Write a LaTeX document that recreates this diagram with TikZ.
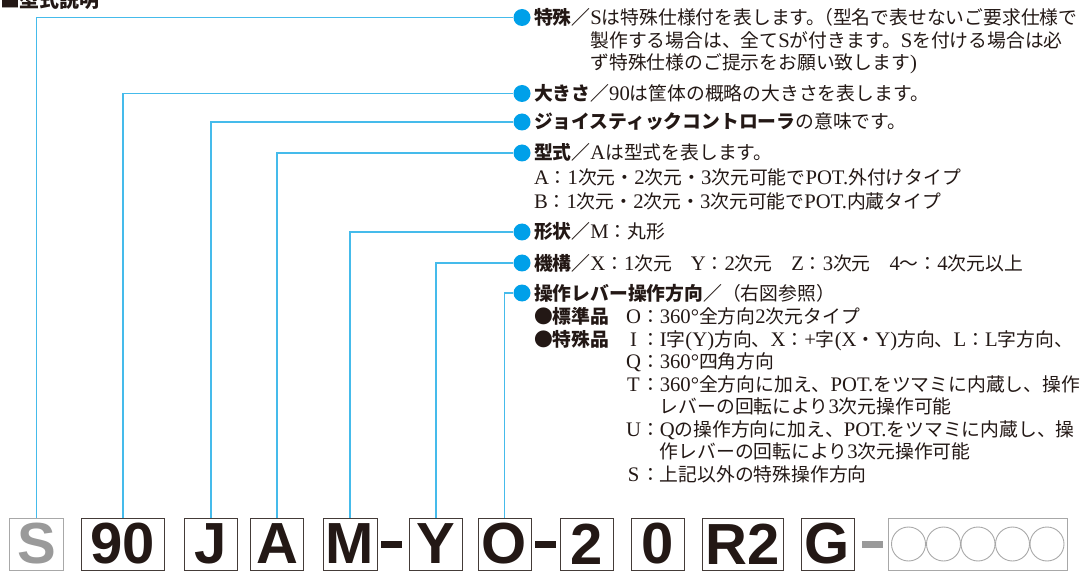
\documentclass[tikz,border=0pt]{standalone}
\usepackage{fontspec}
\setmainfont{Noto Sans CJK JP}
\newfontfamily\latinfont{Liberation Serif}[Scale=1.1]
\newfontfamily\codefont{Liberation Sans}
\newcommand\ltn[1]{{\latinfont #1}}
\newcommand\lab[1]{\makebox[15pt][c]{\latinfont #1}}
\definecolor{ink}{HTML}{231815}
\definecolor{lineblue}{HTML}{45BBEB}
\definecolor{dotblue}{HTML}{00A0E9}
\definecolor{boxgray}{HTML}{A8A8A8}
\definecolor{codegray}{HTML}{9A9A9A}
\begin{document}
\begin{tikzpicture}[x=1pt,y=-1pt,
  txt/.style={anchor=base west, inner sep=0pt, outer sep=0pt, text=ink, font=\fontsize{18.8}{22}\selectfont},
  dot/.style={circle, fill=dotblue, minimum size=17pt, inner sep=0pt},
  conn/.style={draw=lineblue, line width=1.4pt},
  codebox/.style={draw=ink!85, line width=1pt, minimum height=52pt, inner sep=0pt, text=ink,
    font=\codefont\bfseries\fontsize{58}{58}\selectfont},
  graybox/.style={codebox, draw=boxgray, text=codegray},
  dashbar/.style={fill=ink, inner sep=0pt, minimum width=21pt, minimum height=7pt},
  ring/.style={circle, draw=boxgray, line width=0.9pt, minimum size=34pt, inner sep=0pt}
]
\useasboundingbox (0,0) rectangle (1082,572);

% title (clipped at the top)
\node[txt, font=\bfseries\fontsize{20}{22}\selectfont] (title) at (0,7.5) {■型式説明};

% code boxes
\node[graybox, minimum width=54pt] (kS) at (36.5,544) {S};
\node[codebox, minimum width=83pt] (k90) at (123,544) {90};
\node[codebox, minimum width=53pt] (kJ) at (211,544) {J};
\node[codebox, minimum width=53pt] (kA) at (277,544) {A};
\node[codebox, minimum width=54pt] (kM) at (350,544) {M};
\node[dashbar] (d1) at (391.5,544) {};
\node[codebox, minimum width=53pt] (kY) at (436,544) {Y};
\node[codebox, minimum width=53pt] (kO) at (504.5,544) {O};
\node[dashbar] (d2) at (545.5,544) {};
\node[codebox, minimum width=53pt] (k2) at (587,544) {2};
\node[codebox, minimum width=53pt] (k0) at (657.5,544) {0};
\node[codebox, minimum width=81pt] (kR) at (742.5,544) {R2};
\node[codebox, minimum width=53pt] (kG) at (827.5,544) {G};
\node[dashbar, fill=codegray] (d3) at (872,544) {};
\node[graybox, minimum width=179pt] (kX) at (977.5,544) {};
\foreach \i/\cx in {1/908.5,2/943.5,3/978,4/1012.5,5/1047}
  \node[ring] (c\i) at (\cx,544) {};

% bullets
\node[dot] (b1) at (522,17.5) {};
\node[dot] (b2) at (522,93.5) {};
\node[dot] (b3) at (522,122) {};
\node[dot] (b4) at (522,153) {};
\node[dot] (b5) at (522,232) {};
\node[dot] (b6) at (522,263) {};
\node[dot] (b7) at (522,293) {};

% connectors
\draw[conn] (b1) -| (kS.north);
\draw[conn] (b2) -| (k90.north);
\draw[conn] (b3) -| (kJ.north);
\draw[conn] (b4) -| (kA.north);
\draw[conn] (b5) -| (kM.north);
\draw[conn] (b6) -| (kY.north);
\draw[conn] (b7) -| (kO.north);

% texts
\node[txt] (t1a) at (534,25) {{\bfseries 特殊／}\ltn{S}は特殊仕様付を表します。\hspace{-0.6em}（型名で表せないご要求仕様で};
\node[txt] (t1b) at (590.4,47.5) {製作する場合は、全て\ltn{S}が付きます。\ltn{S}を付ける場合は必};
\node[txt] (t1c) at (590.4,70) {ず特殊仕様のご提示をお願い致します\ltn{)}};

\node[txt] (t2) at (534,100.5) {{\bfseries 大きさ／}\ltn{90}は筐体の概略の大きさを表します。};
\node[txt] (t3) at (534,129) {{\bfseries ジョイスティックコントローラ}の意味です。};
\node[txt] (t4) at (534,160) {{\bfseries 型式／}\ltn{A}は型式を表します。};
\node[txt] (t4a) at (534,184.5) {\ltn{A}：\ltn{1}次元・\ltn{2}次元・\ltn{3}次元可能で\ltn{POT.}外付けタイプ};
\node[txt] (t4b) at (534,209) {\ltn{B}：\ltn{1}次元・\ltn{2}次元・\ltn{3}次元可能で\ltn{POT.}内蔵タイプ};
\node[txt] (t5) at (534,239) {{\bfseries 形状／}\ltn{M}：丸形};
\node[txt] (t6) at (534,270) {{\bfseries 機構／}\ltn{X}：\ltn{1}次元　\ltn{Y}：\ltn{2}次元　\ltn{Z}：\ltn{3}次元　\ltn{4}～：\ltn{4}次元以上};
\node[txt] (t7) at (534,300) {{\bfseries 操作レバー操作方向／}（右図参照）};

\node[txt] (s1) at (534,323) {\bfseries ●標準品};
\node[txt] (s1t) at (626,323) {\lab{O}：\ltn{360°}全方向\ltn{2}次元タイプ};
\node[txt] (s2) at (534,346) {\bfseries ●特殊品};
\node[txt] (s2t) at (626,346) {\lab{I}：\ltn{I}字\ltn{(Y)}方向、\ltn{X}：\ltn{+}字\ltn{(X}・\ltn{Y)}方向、\ltn{L}：\ltn{L}字方向、};
\node[txt] (s3) at (626,368) {\lab{Q}：\ltn{360°}四角方向};
\node[txt] (s4) at (626,391) {\lab{T}：\ltn{360°}全方向に加え、\ltn{POT.}をツマミに内蔵し、操作};
\node[txt] (s4b) at (659.8,413) {レバーの回転により\ltn{3}次元操作可能};
\node[txt] (s5) at (626,436) {\lab{U}：\ltn{Q}の操作方向に加え、\ltn{POT.}をツマミに内蔵し、操};
\node[txt] (s5b) at (659.8,458) {作レバーの回転により\ltn{3}次元操作可能};
\node[txt] (s6) at (626,481) {\lab{S}：上記以外の特殊操作方向};
\end{tikzpicture}
\end{document}
